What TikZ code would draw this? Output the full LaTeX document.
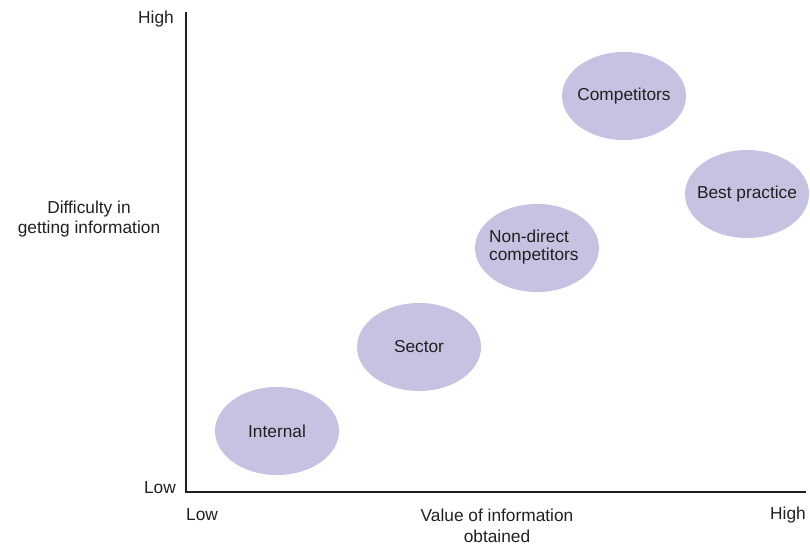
\documentclass[tikz,border=0pt]{standalone}
\usepackage{fontspec}
\setmainfont{Liberation Sans}
\usetikzlibrary{shapes.geometric}
\definecolor{lav}{RGB}{197,195,225}
\definecolor{axis}{RGB}{35,31,32}
\begin{document}
\begin{tikzpicture}[x=1pt,y=-1pt,
  blob/.style={ellipse,fill=lav,draw=none,minimum width=124pt,minimum height=88pt,inner sep=0pt},
  btext/.style={font=\fontsize{17.3}{18}\selectfont,text=axis,inner sep=0pt,align=left},
  lbl/.style={font=\fontsize{17.3}{20.5}\selectfont,text=axis,inner sep=0pt,align=center},
  axisline/.style={draw=axis,line width=2pt}]
\useasboundingbox (0,0) rectangle (810,546);
\coordinate (top) at (186,12);
\coordinate (origin) at (186,492);
\coordinate (right) at (806,492);
\draw[axisline] (top) -- (origin) -- (right);
\node[blob] (internal) at (277,431) {};
\node[btext] (internalt) at (internal.center) {Internal};
\node[blob] (sector) at (419,347) {};
\node[btext] (sectort) at (sector.center) {Sector};
\node[blob] (nondirect) at (537,248) {};
\node[btext,anchor=west] (nondirectt) at (489,247) {Non-direct\\competitors};
\node[blob] (competitors) at (624,96) {};
\node[btext] (competitorst) at (competitors.center) {Competitors};
\node[blob] (best) at (747,194) {};
\node[btext] (bestt) at (best.center) {Best practice};
\node[lbl,anchor=east] (yhigh) at (174,19) {High};
\node[lbl,anchor=east] (ylow) at (176,488) {Low};
\node[lbl] (ylabel) at (89,219) {Difficulty in\\getting information};
\node[lbl,anchor=west] (xlow) at (186,515) {Low};
\node[lbl] (xlabel) at (497,526) {Value of information\\obtained};
\node[lbl,anchor=east] (xhigh) at (806,515) {High};
\end{tikzpicture}
\end{document}
